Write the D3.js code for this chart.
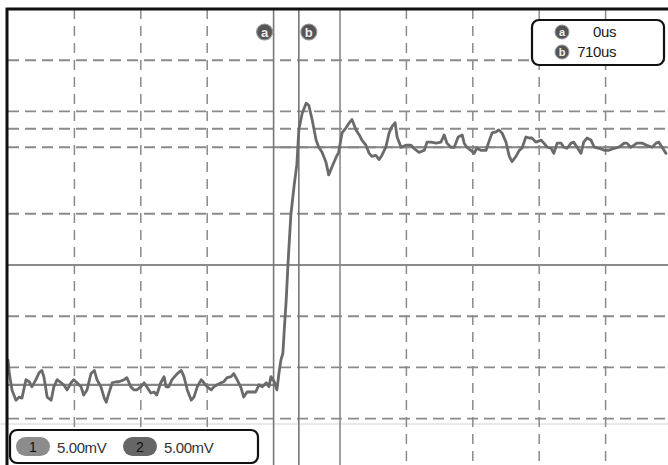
<!DOCTYPE html>
<html>
<head>
<meta charset="utf-8">
<script src="https://cdn.jsdelivr.net/npm/d3@7"></script>
<style>
  body { margin: 0; background: #fff; }
  svg { display: block; }
  text { font-family: "Liberation Sans", Arial, sans-serif; }
</style>
</head>
<body>
<div id="scope"></div>
<script>
// trace: time in divisions (0..10), level in mV
const timeDiv = [0.00,0.02,0.06,0.12,0.17,0.21,0.27,0.32,0.36,0.42,0.47,0.51,0.54,0.59,0.65,0.69,0.74,0.80,0.84,0.89,0.95,0.99,1.04,1.10,1.14,1.19,1.25,1.30,1.34,1.40,1.45,1.48,1.52,1.57,1.63,1.67,1.75,1.79,1.85,1.90,1.94,2.00,2.05,2.09,2.15,2.20,2.24,2.30,2.35,2.38,2.42,2.47,2.55,2.61,2.65,2.70,2.76,2.80,2.85,2.91,2.95,3.00,3.06,3.10,3.15,3.21,3.25,3.30,3.36,3.40,3.45,3.51,3.55,3.60,3.66,3.73,3.78,3.83,3.89,3.93,3.96,4.01,4.04,4.05,4.08,4.11,4.14,4.16,4.19,4.22,4.26,4.31,4.35,4.38,4.43,4.49,4.53,4.58,4.64,4.68,4.73,4.79,4.83,4.88,4.94,4.98,5.03,5.09,5.14,5.18,5.24,5.29,5.33,5.39,5.44,5.48,5.54,5.59,5.63,5.69,5.74,5.78,5.83,5.86,5.92,5.99,6.07,6.11,6.19,6.27,6.31,6.37,6.45,6.52,6.57,6.61,6.67,6.72,6.78,6.84,6.87,6.91,6.97,7.02,7.06,7.12,7.20,7.24,7.29,7.35,7.39,7.44,7.50,7.55,7.59,7.65,7.70,7.74,7.80,7.85,7.89,7.95,8.03,8.07,8.12,8.18,8.22,8.27,8.33,8.37,8.42,8.48,8.52,8.57,8.63,8.67,8.72,8.78,8.83,8.90,8.98,9.05,9.13,9.20,9.28,9.32,9.38,9.43,9.47,9.55,9.62,9.70,9.76,9.80,9.85,9.91];
const levelMv = [-9.3,-10.6,-12.2,-13.2,-12.9,-13.0,-11.2,-11.4,-11.9,-11.2,-10.5,-10.3,-10.9,-12.9,-13.2,-11.9,-11.2,-11.5,-11.7,-12.2,-11.5,-11.2,-11.5,-11.9,-12.7,-12.2,-10.6,-10.3,-11.2,-11.9,-13.0,-13.4,-12.5,-11.5,-11.4,-11.4,-11.2,-11.0,-11.9,-12.2,-12.2,-11.9,-11.5,-11.9,-12.5,-12.4,-12.7,-11.5,-10.9,-11.9,-11.9,-11.2,-10.6,-10.3,-10.9,-12.2,-13.2,-12.9,-11.9,-11.2,-11.5,-11.9,-12.2,-11.9,-11.7,-11.5,-11.4,-11.0,-10.9,-10.6,-11.2,-12.0,-12.9,-12.4,-12.4,-12.4,-11.7,-11.9,-11.5,-11.9,-10.9,-11.4,-12.0,-12.2,-10.6,-9.3,-8.6,-6.4,-3.4,0.5,4.9,7.8,9.8,13.2,14.8,15.8,15.6,14.2,12.2,11.5,11.0,10.0,8.8,9.6,10.5,11.0,12.9,13.4,13.9,14.2,13.2,12.7,12.2,11.7,10.9,10.6,10.7,10.3,10.7,11.5,12.9,13.5,13.9,12.5,11.5,11.7,11.7,11.4,11.0,11.2,12.0,12.0,11.9,12.0,12.7,11.9,11.5,11.5,12.5,12.7,11.9,11.5,11.2,10.9,11.4,11.2,11.2,12.0,12.9,13.0,13.2,12.9,12.0,10.6,10.1,10.6,11.2,11.4,12.5,12.4,12.4,12.0,12.2,11.9,11.5,11.4,10.9,11.9,11.9,11.5,11.4,11.9,12.0,11.5,10.9,12.0,12.4,12.2,11.5,11.4,11.2,11.2,11.4,11.5,11.9,11.9,11.5,11.7,11.9,11.9,11.7,11.5,11.9,12.0,11.5,10.9];

const gridDivs = [1, 2, 3, 6, 7, 8, 9];
const gridMv = [20, 15, 13.3, 11.5, 5, -5, -10, -15];
const centerDiv = 5;
const centerMv = 0;

const cursorDivs = [4.0, 4.38];
const cursorNames = ['a', 'b'];
const cursorTimes = ['0us', '710us'];

const refFrom = [0, 4.0];
const refTo = [4.0, 10];
const refMv = [-11.7, 11.5];

const channelNames = ['1', '2'];
const channelScales = ['5.00mV', '5.00mV'];

const width = 668, height = 465;

const svg = d3.select('#scope').append('svg')
  .attr('width', width)
  .attr('height', height);

const x = d3.scaleLinear().domain([0, 10]).range([8, 672]);
const y = d3.scaleLinear().domain([-25, 25]).range([521, 9]);

// faint scan line near the bottom
svg.append('line')
  .attr('x1', 0).attr('x2', width)
  .attr('y1', 424).attr('y2', 424)
  .attr('stroke', '#d4d4d4').attr('stroke-width', 1.2);

// dashed graticule
svg.append('g')
  .selectAll('line')
  .data(gridDivs)
  .join('line')
    .attr('x1', d => x(d)).attr('x2', d => x(d))
    .attr('y1', y(25)).attr('y2', height)
    .attr('stroke', '#8a8a8a')
    .attr('stroke-width', 1.5)
    .attr('stroke-dasharray', '10,7');

svg.append('g')
  .selectAll('line')
  .data(gridMv)
  .join('line')
    .attr('x1', x(0)).attr('x2', width)
    .attr('y1', d => y(d)).attr('y2', d => y(d))
    .attr('stroke', '#8a8a8a')
    .attr('stroke-width', 1.9)
    .attr('stroke-dasharray', '11,6');

// solid centre axes
svg.append('line')
  .attr('x1', x(centerDiv)).attr('x2', x(centerDiv))
  .attr('y1', y(25)).attr('y2', height)
  .attr('stroke', '#8a8a8a').attr('stroke-width', 1.6);
svg.append('line')
  .attr('x1', x(0)).attr('x2', width)
  .attr('y1', y(centerMv)).attr('y2', y(centerMv))
  .attr('stroke', '#8a8a8a').attr('stroke-width', 2);

// reference levels
svg.append('g')
  .selectAll('line')
  .data(refMv)
  .join('line')
    .attr('x1', (d, i) => x(refFrom[i]))
    .attr('x2', (d, i) => Math.min(width, x(refTo[i])))
    .attr('y1', d => y(d)).attr('y2', d => y(d))
    .attr('stroke', '#858585')
    .attr('stroke-width', 2.2);

// cursors
svg.append('g')
  .selectAll('line')
  .data(cursorDivs)
  .join('line')
    .attr('x1', d => x(d)).attr('x2', d => x(d))
    .attr('y1', y(25)).attr('y2', height)
    .attr('stroke', '#777')
    .attr('stroke-width', 1.6);

// trace
const line = d3.line()
  .x((d, i) => x(timeDiv[i]))
  .y(d => y(d));

svg.append('path')
  .datum(levelMv)
  .attr('d', line)
  .attr('fill', 'none')
  .attr('stroke', '#6a6a6a')
  .attr('stroke-width', 2.8)
  .attr('stroke-linejoin', 'round')
  .attr('stroke-linecap', 'round');

// cursor badges at the top
const badge = svg.append('g')
  .selectAll('g')
  .data(cursorNames)
  .join('g')
    .attr('transform', (d, i) => `translate(${x(cursorDivs[i]) + (i === 0 ? -9 : 10)},32)`);
badge.append('circle').attr('r', 8).attr('fill', '#555').attr('stroke', '#999').attr('stroke-width', 1.2);
badge.append('text')
  .attr('text-anchor', 'middle').attr('dy', '0.35em')
  .attr('font-size', 13).attr('font-weight', 'bold')
  .attr('fill', '#eee')
  .text(d => d);

// readout box
const readout = svg.append('g');
readout.append('rect')
  .attr('x', 532).attr('y', 20).attr('width', 132).attr('height', 45)
  .attr('rx', 7).attr('fill', '#fff')
  .attr('stroke', '#111').attr('stroke-width', 2.2);
const rows = readout.selectAll('g')
  .data(cursorTimes)
  .join('g')
    .attr('transform', (d, i) => `translate(0,${32 + i * 20})`);
rows.append('circle').attr('cx', 562).attr('r', 7).attr('fill', '#555').attr('stroke', '#999');
rows.append('text')
  .attr('x', 562).attr('text-anchor', 'middle').attr('dy', '0.35em')
  .attr('font-size', 11).attr('font-weight', 'bold').attr('fill', '#eee')
  .text((d, i) => cursorNames[i]);
rows.append('text')
  .attr('x', 616).attr('text-anchor', 'end').attr('dy', '0.36em')
  .attr('font-size', 15).attr('fill', '#1a1a1a')
  .attr('letter-spacing', -0.4)
  .text(d => d);

// channel box
const chan = svg.append('g');
chan.append('rect')
  .attr('x', 10).attr('y', 430).attr('width', 248).attr('height', 33)
  .attr('rx', 7).attr('fill', '#fff')
  .attr('stroke', '#111').attr('stroke-width', 2.2);
const chItems = chan.selectAll('g')
  .data(channelNames)
  .join('g')
    .attr('transform', (d, i) => `translate(${16 + i * 107},437)`);
chItems.append('rect')
  .attr('width', 34).attr('height', 19).attr('rx', 9.5)
  .attr('fill', (d, i) => i === 0 ? '#8c8c8c' : '#666');
chItems.append('text')
  .attr('x', 17).attr('y', 15).attr('text-anchor', 'middle')
  .attr('font-size', 14).attr('fill', '#111')
  .text(d => d);
chItems.append('text')
  .attr('x', 41).attr('y', 16)
  .attr('font-size', 15).attr('fill', '#333')
  .attr('letter-spacing', -0.4)
  .text((d, i) => channelScales[i]);

// screen frame (top and left edges)
svg.append('path')
  .attr('d', `M${x(0) - 1},${height} V${y(25)} H${width}`)
  .attr('fill', 'none')
  .attr('stroke', '#111')
  .attr('stroke-width', 3);
</script>
</body>
</html>
